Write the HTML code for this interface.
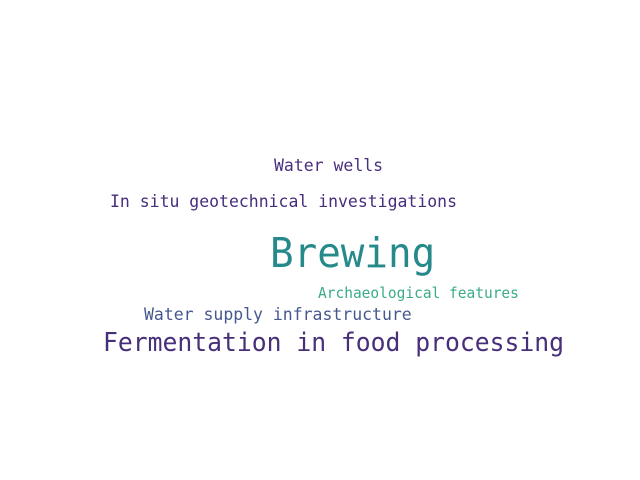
<!DOCTYPE html>
<html>
<head>
<meta charset="utf-8">
<style>
  html,body{margin:0;padding:0;background:#fff;}
  svg{display:block;}
  text{font-family:"DejaVu Sans Mono","Liberation Mono",monospace;}
</style>
</head>
<body>
<svg id="chart" width="640" height="480" viewBox="0 0 640 480"></svg>
<script>
const words = ["Brewing","Fermentation in food processing","In situ geotechnical investigations","Water wells","Water supply infrastructure","Archaeological features"];
const weights = [100, 63, 42, 42, 42, 37];
const colors = ["#26898a","#482f7a","#472d7b","#4a2f7d","#46598f","#3bab8a"];
// layout (word cloud placement): left x, baseline y
const layoutX = [270, 103, 110, 274, 144, 318];
const layoutY = [267, 351, 207, 171, 320, 298];
const maxFont = 38.7;
function fontSize(w){ return maxFont * w / 100; }
const svg = document.getElementById('chart');
const NS = "http://www.w3.org/2000/svg";
words.forEach((w,i)=>{
  const t = document.createElementNS(NS,'text');
  const fs = fontSize(weights[i]);
  t.setAttribute('x', layoutX[i]);
  t.setAttribute('y', layoutY[i]);
  t.setAttribute('font-size', (fs*1.06).toFixed(2));
  t.setAttribute('fill', colors[i]);
  t.setAttribute('textLength', (w.length * fs * 0.61).toFixed(1));
  t.setAttribute('lengthAdjust', 'spacingAndGlyphs');
  t.textContent = w;
  
  
  svg.appendChild(t);
});
</script>
</body>
</html>
